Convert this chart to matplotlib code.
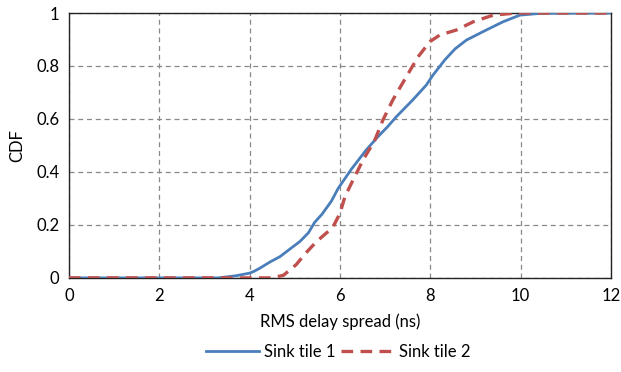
import matplotlib
matplotlib.use("Agg")
import matplotlib.pyplot as plt

plt.rcParams['font.family'] = ['Lato', 'DejaVu Sans']

# Sink tile 1 (blue, solid)
x1 = [0, 3.3, 3.7, 4.0, 4.1, 4.23, 4.45, 4.67, 4.9, 5.11, 5.3, 5.44, 5.6, 5.81, 5.96,
      6.25, 6.58, 6.84, 7.05, 7.25, 7.6, 7.91, 8.06, 8.32, 8.55, 8.8, 9.24, 9.61,
      9.98, 10.46, 12]
y1 = [0, 0, 0.008, 0.018, 0.025, 0.037, 0.06, 0.08, 0.11, 0.137, 0.17, 0.21, 0.24,
      0.29, 0.338, 0.41, 0.483, 0.533, 0.57, 0.609, 0.67, 0.728, 0.766, 0.823, 0.865,
      0.898, 0.936, 0.967, 0.992, 0.999, 1.0]

# Sink tile 2 (red, dashed)
x2 = [0, 4.5, 4.75, 5.03, 5.25, 5.48, 5.77, 5.85, 6.0, 6.11, 6.29, 6.51, 6.77, 6.95,
      7.17, 7.47, 7.73, 7.99, 8.21, 8.58, 8.95, 9.39, 9.9, 12]
y2 = [0, 0, 0.01, 0.05, 0.095, 0.137, 0.18, 0.194, 0.244, 0.307, 0.37, 0.445, 0.52,
      0.596, 0.672, 0.76, 0.835, 0.892, 0.917, 0.936, 0.967, 0.992, 1.0, 1.0]

xticks = [0, 2, 4, 6, 8, 10, 12]
yticks = [0, 0.2, 0.4, 0.6, 0.8, 1]
ytick_labels = ['0', '0.2', '0.4', '0.6', '0.8', '1']

fig = plt.figure(figsize=(6.21, 3.72), dpi=100)
ax = fig.add_axes([0.111, 0.253, 0.873, 0.712])

ax.plot(x1, y1, color='#4a7ebb', lw=2.0, label='Sink tile 1', zorder=3)
ax.plot(x2, y2, color='#c0504d', lw=2.4, dashes=(3.5, 2.2), label='Sink tile 2', zorder=3)

ax.set_xlim(0, 12)
ax.set_ylim(0, 1)
ax.set_xticks(xticks)
ax.set_yticks(yticks)
ax.set_yticklabels(ytick_labels)
ax.tick_params(length=0, labelsize=12, pad=7)
ax.grid(True, color='#888888', ls=(0, (4, 3)), lw=0.9)
for s in ax.spines.values():
    s.set_color('#222222')
    s.set_linewidth(1.0)

ax.set_xlabel('RMS delay spread (ns)', fontsize=12, labelpad=7)
ax.set_ylabel('CDF', fontsize=12, labelpad=8)

fig.legend(loc='center', bbox_to_anchor=(0.545, 0.053), ncol=2, frameon=False,
           fontsize=12, handlelength=3.2, columnspacing=0.3, handletextpad=0.3)

fig.savefig('out.png', dpi=100)
